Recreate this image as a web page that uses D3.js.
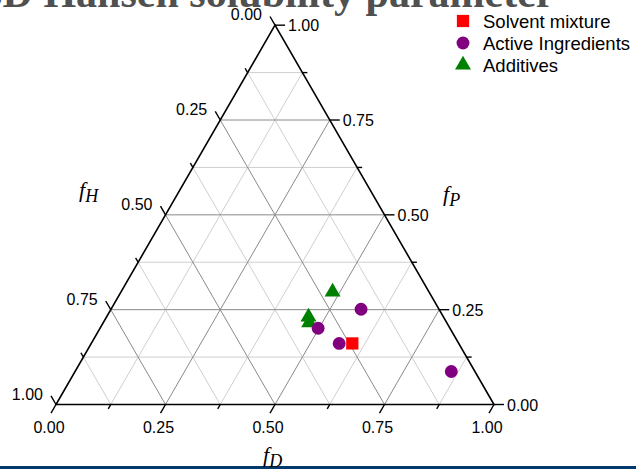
<!DOCTYPE html>
<html>
<head>
<meta charset="utf-8">
<script src="https://d3js.org/d3.v7.min.js"></script>
<style>
    body { margin: 0; background: #ffffff; }
    svg { display: block; }
</style>
</head>
<body>
<div class="ternaryDiv"></div>
<script>
"use strict";

//
/* Data: */
//

// Each series holds fD, fP, fH fractions (they sum to 1)
var solventFD = [0.596];
var solventFP = [0.161];
var solventFH = [0.243];

var activeFD = [0.571, 0.498, 0.566, 0.859];
var activeFP = [0.251, 0.201, 0.161, 0.087];
var activeFH = [0.178, 0.301, 0.273, 0.054];

var additiveFD = [0.483, 0.461, 0.470];
var additiveFP = [0.297, 0.231, 0.216];
var additiveFH = [0.220, 0.308, 0.314];

var seriesNames = ["Solvent mixture", "Active Ingredients", "Additives"];
var majorTicks = [0, 0.25, 0.5, 0.75, 1];
var minorTicks = [0.125, 0.375, 0.625, 0.875];

var titleText = "3D Hansen solubility parameter";


//
/* SVG Properties: */
//

var width = 636;
var height = 469;

var x0 = 56;        // bottom-left vertex
var x1 = 494;       // bottom-right vertex
var yBase = 404.5;
var triHeight = (x1 - x0) * Math.sqrt(3) / 2;

// horizontal position from (fD + fP / 2), vertical position from fP
var xScale = d3.scaleLinear().domain([0, 1]).range([x0, x1]);
var yScale = d3.scaleLinear().domain([0, 1]).range([yBase, yBase - triHeight]);

var project = function(fD, fP)
{
    return [xScale(fD + fP / 2), yScale(fP)];
}

var fmt = d3.format(".2f");

var svg = d3.select(".ternaryDiv").append("svg")
            .attr("width", width)
            .attr("height", height);

// Bottom band
svg.append("rect")
    .attr("x", 0).attr("y", 466)
    .attr("width", width).attr("height", 3)
    .attr("fill", "#003a6c");

// Title (partly cut by the top edge)
svg.append("text")
    .attr("x", 268).attr("y", 7)
    .attr("text-anchor", "middle")
    .attr("font-family", "Liberation Serif, Times New Roman, serif")
    .attr("font-weight", "bold")
    .attr("font-size", 42)
    .attr("fill", "#505050")
    .text(titleText);


//
/* Grid: */
//

var gridLines = [];
var addGrid = function(v, major)
{
    // constant fD
    gridLines.push({ a: project(v, 0), b: project(v, 1 - v), major: major });
    // constant fP
    gridLines.push({ a: project(0, v), b: project(1 - v, v), major: major });
    // constant fH
    gridLines.push({ a: project(1 - v, 0), b: project(0, 1 - v), major: major });
}
minorTicks.forEach(function(v) { addGrid(v, false); });
majorTicks.slice(1, 4).forEach(function(v) { addGrid(v, true); });

svg.append("g").attr("class", "grid")
    .selectAll("line")
    .data(gridLines).enter()
    .append("line")
    .attr("x1", function(d) { return d.a[0]; })
    .attr("y1", function(d) { return d.a[1]; })
    .attr("x2", function(d) { return d.b[0]; })
    .attr("y2", function(d) { return d.b[1]; })
    .attr("stroke", function(d) { return d.major ? "#8a8a8a" : "#cfcfcf"; })
    .attr("stroke-width", 1);


//
/* Axes: */
//

var axisG = svg.append("g").attr("class", "axes");

var corners = [project(0, 0), project(1, 0), project(0, 1)];
axisG.append("path")
    .attr("d", "M" + corners[0] + "L" + corners[1] + "L" + corners[2] + "Z")
    .attr("fill", "none")
    .attr("stroke", "#000")
    .attr("stroke-width", 1.6)
    .attr("stroke-linejoin", "miter");

var c60 = 0.5, s60 = Math.sqrt(3) / 2;

// tick definitions: position on axis, outward direction
var axes = [
    {   // fD along bottom
        pos: function(v) { return project(v, 0); },
        dir: [-c60, s60],
        label: function(p) { return { x: p[0] - 7, y: p[1] + 28, anchor: "middle" }; }
    },
    {   // fP along right
        pos: function(v) { return project(1 - v, v); },
        dir: [1, 0],
        label: function(p) { return { x: p[0] + 13, y: p[1] + 6, anchor: "start" }; }
    },
    {   // fH along left
        pos: function(v) { return project(0, 1 - v); },
        dir: [-c60, -s60],
        label: function(p) { return { x: p[0] - 13, y: p[1] - 5, anchor: "end" }; }
    }
];

axes.forEach(function(ax)
{
    var ticks = majorTicks.map(function(v) { return { v: v, len: 10 }; })
                .concat(minorTicks.map(function(v) { return { v: v, len: 5 }; }));

    axisG.append("g").selectAll("line")
        .data(ticks).enter()
        .append("line")
        .attr("x1", function(d) { return ax.pos(d.v)[0]; })
        .attr("y1", function(d) { return ax.pos(d.v)[1]; })
        .attr("x2", function(d) { return ax.pos(d.v)[0] + ax.dir[0] * d.len; })
        .attr("y2", function(d) { return ax.pos(d.v)[1] + ax.dir[1] * d.len; })
        .attr("stroke", "#000")
        .attr("stroke-width", 1.4);

    axisG.append("g").selectAll("text")
        .data(majorTicks).enter()
        .append("text")
        .attr("x", function(d) { return ax.label(ax.pos(d)).x; })
        .attr("y", function(d) { return ax.label(ax.pos(d)).y; })
        .attr("text-anchor", function(d) { return ax.label(ax.pos(d)).anchor; })
        .attr("font-family", "Liberation Sans, Arial, sans-serif")
        .attr("font-size", 16)
        .attr("fill", "#000")
        .text(function(d) { return fmt(d); });
});

// Axis titles
var axisTitle = function(x, y, sub)
{
    var t = svg.append("text")
        .attr("x", x).attr("y", y)
        .attr("font-family", "Liberation Serif, Times New Roman, serif")
        .attr("font-style", "italic")
        .attr("font-size", 22)
        .attr("fill", "#000");
    t.append("tspan").text("f");
    t.append("tspan").attr("dy", 5).attr("font-size", 18).text(sub);
}
axisTitle(79, 197, "H");
axisTitle(443, 201, "P");
axisTitle(263, 462, "D");


//
/* Points: */
//

var toPoints = function(fd, fp, fh)
{
    return fd.map(function(d, i) { return { fD: fd[i], fP: fp[i], fH: fh[i] }; });
}

var seriesList = [
    { name: seriesNames[0], pts: toPoints(solventFD, solventFP, solventFH), sym: d3.symbolSquare, size: 150, color: "#ff0000" },
    { name: seriesNames[1], pts: toPoints(activeFD, activeFP, activeFH), sym: d3.symbolCircle, size: 130, color: "#800080" },
    { name: seriesNames[2], pts: toPoints(additiveFD, additiveFP, additiveFH), sym: d3.symbolTriangle, size: 110, color: "#008000" }
];

var pointG = svg.append("g").attr("class", "points");

// draw in reverse so the solvent square sits on top
seriesList.slice().reverse().forEach(function(s)
{
    pointG.append("g").selectAll("path")
        .data(s.pts).enter()
        .append("path")
        .attr("d", d3.symbol().type(s.sym).size(s.size))
        .attr("transform", function(d) { return "translate(" + project(d.fD, d.fP) + ")"; })
        .attr("fill", s.color);
});


//
/* Legend: */
//

var legend = svg.append("g").attr("class", "legend")
    .selectAll("g")
    .data(seriesList).enter()
    .append("g")
    .attr("transform", function(d, i) { return "translate(463," + (21 + i * 22) + ")"; });

legend.append("path")
    .attr("d", function(d) { return d3.symbol().type(d.sym).size(d.size)(); })
    .attr("fill", function(d) { return d.color; });

legend.append("text")
    .attr("x", 20)
    .attr("y", 6.5)
    .attr("font-family", "Liberation Sans, Arial, sans-serif")
    .attr("font-size", 18.5)
    .attr("fill", "#000")
    .text(function(d) { return d.name; });
</script>
</body>
</html>
